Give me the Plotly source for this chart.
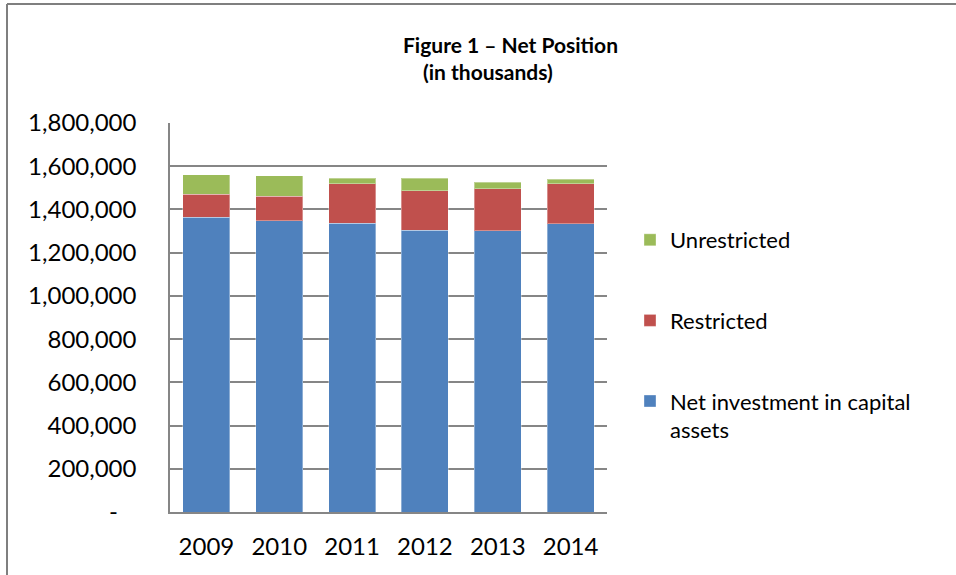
import plotly.graph_objects as go

years = ["2009", "2010", "2011", "2012", "2013", "2014"]
net_investment = [1364000, 1347000, 1336000, 1304000, 1301000, 1334000]
restricted = [106000, 114000, 184000, 182000, 195000, 184000]
unrestricted = [91000, 94000, 25000, 58000, 31000, 21000]

y_tickvals = [0, 200000, 400000, 600000, 800000, 1000000, 1200000, 1400000, 1600000, 1800000]
y_ticktext = ["-\u00a0\u00a0\u00a0", "200,000", "400,000", "600,000", "800,000", "1,000,000",
              "1,200,000", "1,400,000", "1,600,000", "1,800,000"]

FONT = "Lato"
W, H = 956, 575
L, T = 170, 123
R = W - 607
B = H - 512
PW, PH = W - L - R, H - T - B


def px(x):
    # x given in page pixels
    return (x - L) / PW


def py(y):
    return (H - B - y) / PH


fig = go.Figure()
series = [
    ("Net investment in capital<br>assets", net_investment, "#4F81BD", 3),
    ("Restricted", restricted, "#C0504D", 2),
    ("Unrestricted", unrestricted, "#9BBB59", 1),
]
for i, (name, vals, color, rank) in enumerate(series):
    fig.add_trace(go.Bar(
        x=years, y=vals, name=name, legendgroup=str(i), legendrank=rank,
        marker=dict(color=color, line=dict(color="rgba(255,255,255,0.35)", width=1)),
    ))

fig.update_layout(
    width=W, height=H,
    margin=dict(l=L, r=R, t=T, b=B, autoexpand=False),
    barmode="stack", bargap=0.354,
    plot_bgcolor="white", paper_bgcolor="white",
    font=dict(family=FONT, size=24, color="black"),
    showlegend=True,
    legend=dict(x=px(630), y=py(219), xanchor="left", yanchor="top",
                traceorder="grouped", tracegroupgap=49, valign="top",
                font=dict(family=FONT, size=22, color="black"), bgcolor="rgba(0,0,0,0)"),
    xaxis=dict(showline=True, linecolor="#868686", linewidth=1.5, ticks="",
               tickfont=dict(size=24), ticklabelstandoff=12),
    yaxis=dict(range=[0, 1800000], tickvals=y_tickvals, ticktext=y_ticktext,
               showgrid=True, gridcolor="#868686", gridwidth=1.5,
               showline=True, linecolor="#868686", linewidth=1.5, zeroline=False,
               ticks="", tickfont=dict(size=24), ticklabelstandoff=27),
    annotations=[
        dict(text="<b>Figure 1 – Net Position</b>", x=px(510), y=py(44), xref="paper", yref="paper",
             xanchor="center", yanchor="middle", showarrow=False, font=dict(family=FONT, size=21)),
        dict(text="<b>(in thousands)</b>", x=px(488), y=py(72), xref="paper", yref="paper",
             xanchor="center", yanchor="middle", showarrow=False, font=dict(family=FONT, size=21)),
    ],
    shapes=[
        dict(type="line", xref="paper", yref="paper", x0=px(7), x1=px(970), y0=py(4), y1=py(4),
             line=dict(color="#7f7f7f", width=2)),
        dict(type="line", xref="paper", yref="paper", x0=px(7), x1=px(7), y0=py(4), y1=py(590),
             line=dict(color="#7f7f7f", width=2)),
    ],
)

fig.write_html("out.html", config={"displayModeBar": False},
               post_script="document.body.style.margin='0';")
